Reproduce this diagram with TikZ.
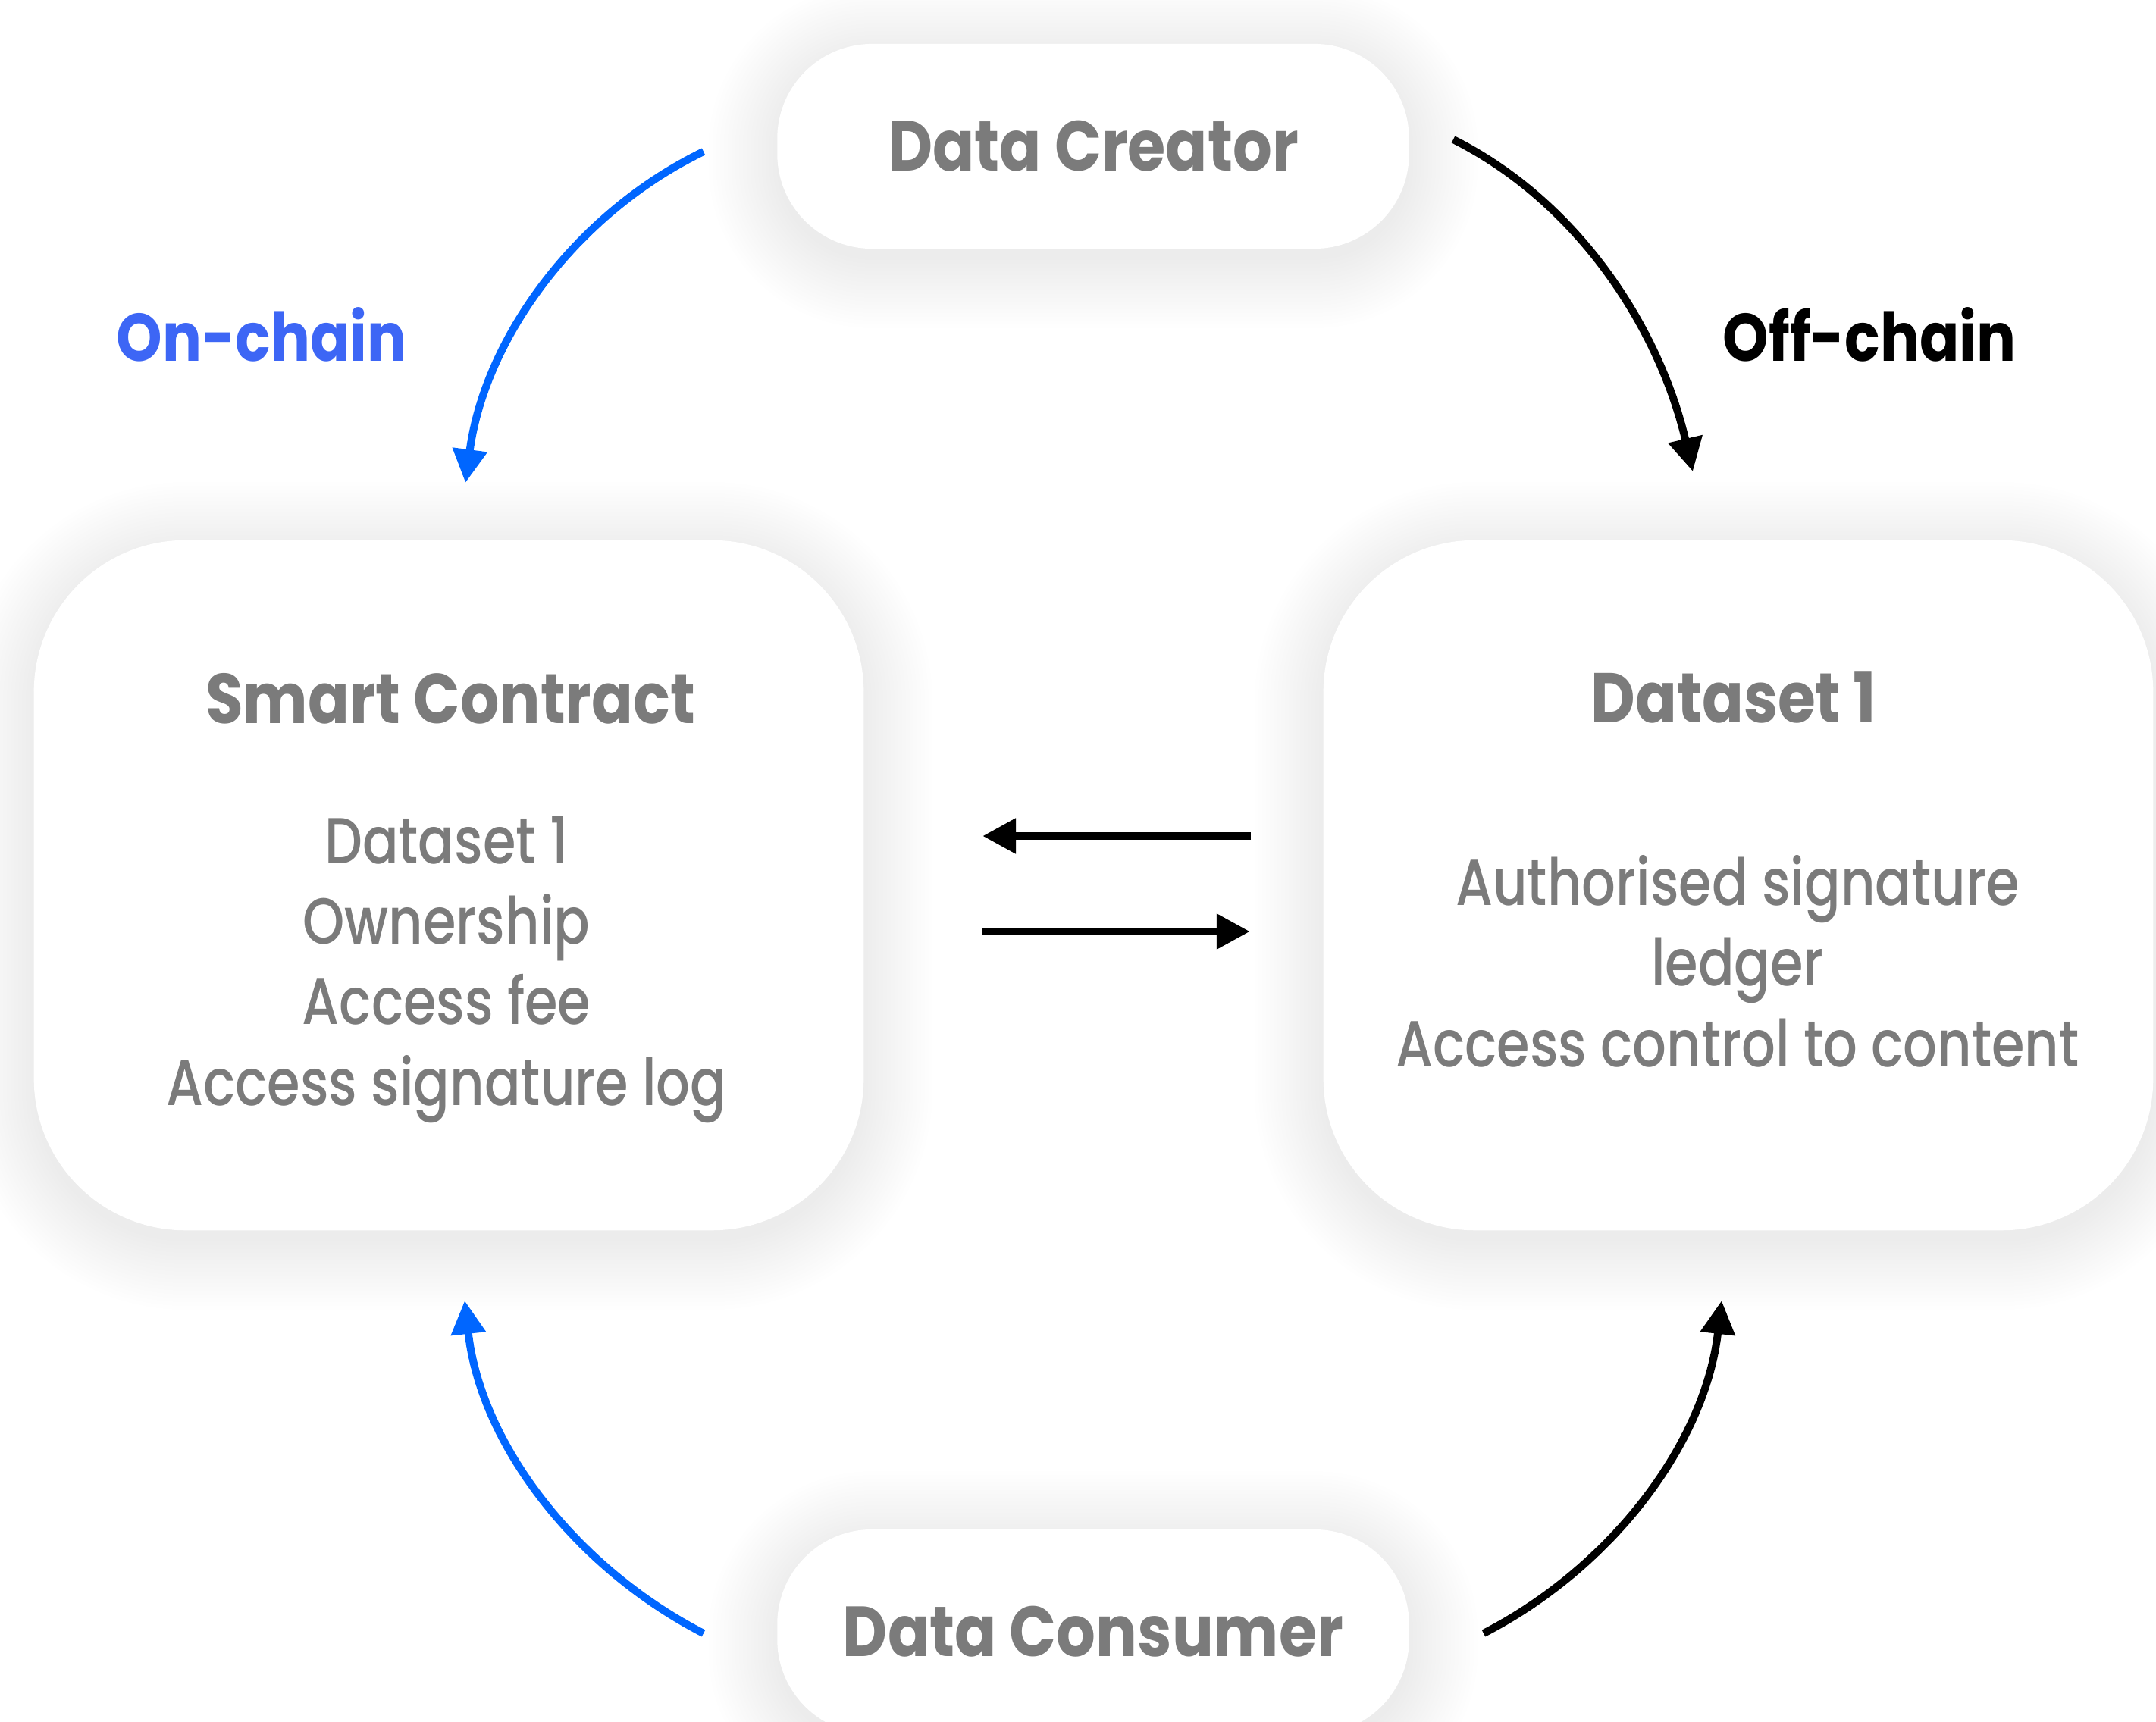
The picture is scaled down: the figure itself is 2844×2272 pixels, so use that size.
\documentclass[tikz,border=0pt]{standalone}
\usepackage{fontspec}
\setmainfont{Poppins}[FakeStretch=0.87]
\newfontfamily\bodyfont{Poppins Medium}[FakeStretch=0.82]
\usetikzlibrary{arrows.meta}
\pgfdeclarelayer{background}
\pgfsetlayers{background,main}
\definecolor{arrowblue}{HTML}{0066FF}
\definecolor{labelblue}{HTML}{3D66F5}
\definecolor{textgray}{HTML}{7B7B7B}
\newcommand{\cardshadow}[2]{%
  \foreach \d in {0,5,...,90}{%
    \pgfmathsetmacro\rr{#2+\d*0.01}%
    \fill[black, opacity=0.0045, rounded corners=\rr cm]
      ([shift={(-\d,-\d+14)}]#1.north west) rectangle ([shift={(\d,\d+14)}]#1.south east);
  }}
\begin{document}
\begin{tikzpicture}[x=0.01cm,y=-0.01cm,
  card/.style={fill=white, inner sep=0pt},
  pill/.style={card, rounded corners=1.25cm, minimum width=8.33cm, minimum height=2.7cm,
    text=textgray, font=\fontsize{26.6}{30}\selectfont\bfseries},
  panel/.style={card, rounded corners=2cm, minimum width=10.94cm, minimum height=9.1cm},
  titletext/.style={anchor=base, text=textgray, font=\fontsize{26.4}{30}\selectfont\bfseries, inner sep=0pt},
  bodytext/.style={anchor=base, align=center, text=textgray, font=\bodyfont\fontsize{24.4}{30.2}\selectfont, inner sep=0pt},
  sidetext/.style={anchor=base, font=\fontsize{25.2}{30}\selectfont\bfseries, inner sep=0pt},
  curvedarrow/.style={line width=2.85pt, -{Triangle[length=4.4mm,width=4.4mm]}},
  straightarrow/.style={line width=3.1pt, -{Triangle[length=4.4mm,width=4.4mm]}},
]
\useasboundingbox (0,0) rectangle (2844,2272);
\clip (0,0) rectangle (2844,2272);

% boxes
\node[pill] (creator) at (1442,193) {Data Creator};
\node[pill] (consumer) at (1442,2153) {Data Consumer};
\node[panel] (sc) at (592,1168) {};
\node[panel] (ds) at (2293,1168) {};

% page background and soft shadows
\begin{pgfonlayer}{background}
  \fill[white] (0,0) rectangle (2844,2272);
  \cardshadow{creator}{1.25}
  \cardshadow{consumer}{1.25}
  \cardshadow{sc}{2}
  \cardshadow{ds}{2}
\end{pgfonlayer}

% box texts
\node[titletext] (sctitle) at (594,954) {Smart Contract};
\node[bodytext] (scbody) at (589,1458) {Dataset 1\\Ownership\\Access fee\\Access signature log};
\node[titletext] (dstitle) at (2287,953) {Dataset 1};
\node[bodytext] (dsbody) at (2292,1407) {Authorised signature\\ledger\\Access control to content};

% side labels
\node[sidetext, text=labelblue] (onchain) at (345,476) {On-chain};
\node[sidetext, text=black] (offchain) at (2466,476) {Off-chain};

% connector end points
\coordinate (tlA) at (928,200);
\coordinate (tlB) at (614,637);
\coordinate (trA) at (1917,184);
\coordinate (trB) at (2233,622);
\coordinate (blA) at (928,2155);
\coordinate (blB) at (613,1716);
\coordinate (brA) at (1957,2155);
\coordinate (brB) at (2271,1716);
\coordinate (hTopR) at (1650,1103);
\coordinate (hTopL) at (1296,1103);
\coordinate (hBotL) at (1295,1229);
\coordinate (hBotR) at (1649,1229);

% curved arrows
\draw[curvedarrow, arrowblue] (tlA) .. controls (757,283) and (639,449) .. (tlB);
\draw[curvedarrow, black] (trA) .. controls (2086,269) and (2190,438) .. (trB);
\draw[curvedarrow, arrowblue] (blA) .. controls (759,2068) and (634,1905) .. (blB);
\draw[curvedarrow, black] (brA) .. controls (2126,2068) and (2249,1905) .. (brB);

% straight arrows
\draw[straightarrow] (hTopR) -- (hTopL);
\draw[straightarrow] (hBotL) -- (hBotR);
\end{tikzpicture}
\end{document}
